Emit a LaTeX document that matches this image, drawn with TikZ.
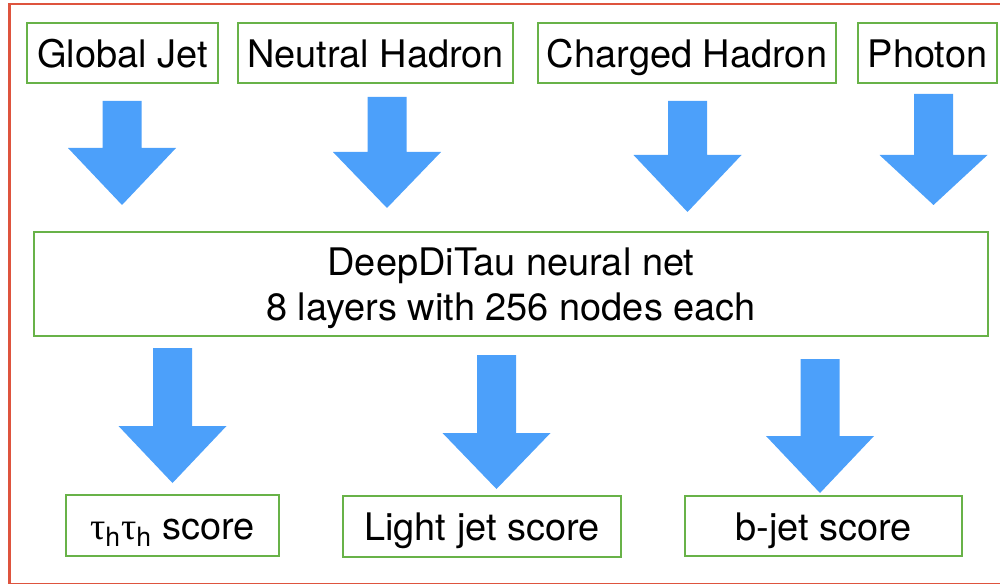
\documentclass[tikz,border=0pt]{standalone}
\usepackage{fontspec}
\setmainfont{TeX Gyre Heros}
\newfontfamily\greekfont{Liberation Serif}
\usepackage{xcolor}
\usepackage{tikz}
\usetikzlibrary{positioning,calc}

\definecolor{boxgreen}{RGB}{104,178,72}
\definecolor{arrowblue}{RGB}{76,160,250}
\definecolor{framered}{RGB}{222,84,62}

\tikzset{
  gbox/.style={draw=boxgreen,line width=1.15pt,inner sep=0pt,align=center,
    font=\fontsize{21.6}{25.6}\selectfont},
  lbox/.style={gbox,text height=16pt,text depth=0pt},
  flow/.style={fill=arrowblue,draw=none}
}

\begin{document}
\begin{tikzpicture}[x=0.02cm,y=-0.02cm]
\useasboundingbox (0,0) rectangle (1000,584);
\draw[framered,line width=1.15pt] (9.5,4) rectangle (1010,584.5);

\node[lbox,minimum width=3.82cm,minimum height=1.2cm] (glob) at (122.5,53) {Global Jet};
\node[lbox,minimum width=5.5cm,minimum height=1.2cm] (neut) at (375.5,53) {Neutral Hadron};
\node[lbox,minimum width=5.96cm,minimum height=1.2cm] (charg) at (687,53) {Charged Hadron};
\node[lbox,minimum width=2.78cm,minimum height=1.2cm] (phot) at (927.5,53) {Photon};

\node[gbox,text height=46.5pt,text depth=4.5pt,minimum width=19.08cm,minimum height=2.08cm] (net) at (511,284)
  {DeepDiTau neural net\\8 layers with 256 nodes each};

\node[lbox,minimum width=4.26cm,minimum height=1.22cm] (tautau) at (172.5,525.5)
  {{\greekfont τ}\textsubscript{h}{\greekfont τ}\textsubscript{h} score};
\node[lbox,minimum width=5.56cm,minimum height=1.22cm] (light) at (482,526.5) {Light jet score};
\node[lbox,minimum width=5.54cm,minimum height=1.2cm] (bjet) at (823.5,526) {b-jet score};

% block arrows: centre x / top / start of head / tip
\foreach \cx/\ya/\yb/\yc in {122/101/148/205, 387/97/152/208, 687.5/101/155/212, 933.5/94/155/205,
  172.5/348/426/483, 496.5/355/433/489, 820/359/436/493}{
  \fill[flow] (\cx-19.5,\ya) -- (\cx+19.5,\ya) -- (\cx+19.5,\yb) -- (\cx+54,\yb)
    -- (\cx,\yc) -- (\cx-54,\yb) -- (\cx-19.5,\yb) -- cycle;
}
\end{tikzpicture}
\end{document}
